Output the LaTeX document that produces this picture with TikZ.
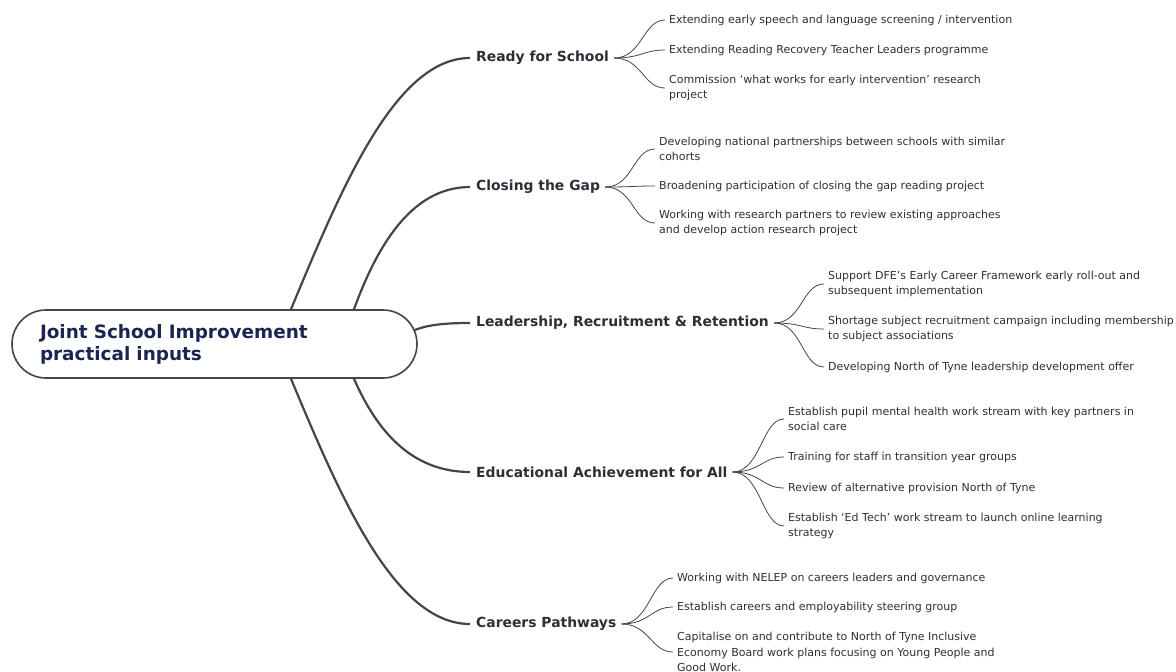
\documentclass[tikz,border=0pt]{standalone}
\usepackage{fontspec}
\setmainfont{DejaVu Sans}
\usepackage{xcolor}
\definecolor{txtgrey}{HTML}{2E2E38}
\definecolor{rootblue}{HTML}{1C2452}
\definecolor{linkgrey}{HTML}{454545}

\begin{document}
\begin{tikzpicture}[x=1pt,y=-1pt,
    leaf/.style={anchor=west, align=left, inner sep=0pt, text=txtgrey, font=\fontsize{11}{15.5}\selectfont},
    topic/.style={anchor=west, inner sep=0pt, text=txtgrey, font=\fontsize{13.9}{16}\selectfont\bfseries},
    trunk/.style={draw=linkgrey, line width=2.2pt},
    twig/.style={draw=linkgrey, line width=0.8pt}]
        \useasboundingbox (0,0) rectangle (1176,672);
        % central topic
        \node[draw=linkgrey, line width=1.6pt, fill=white, rounded corners=34pt,
              minimum width=405pt, minimum height=68pt, text width=349pt, inner xsep=28pt,
              align=left, text=rootblue, font=\fontsize{18.4}{22}\selectfont\bfseries]
              (root) at (214.5,344) {Joint School Improvement\\practical inputs};
        % main topics
        \node[topic] (ready) at (476,58) {Ready for School};
        \node[topic] (gap) at (476,187) {Closing the Gap};
        \node[topic] (lead) at (476,323) {Leadership, Recruitment \& Retention};
        \node[topic] (achieve) at (476,472) {Educational Achievement for All};
        \node[topic] (career) at (476,624) {Careers Pathways};
        % subtopics
        \node[leaf] (r1) at (669,20) {Extending early speech and language screening / intervention};
        \node[leaf] (r2) at (669,50) {Extending Reading Recovery Teacher Leaders programme};
        \node[leaf] (r3) at (669,88) {Commission ‘what works for early intervention’ research\\project};
        \node[leaf] (g1) at (659,149) {Developing national partnerships between schools with similar\\cohorts};
        \node[leaf] (g2) at (659,186) {Broadening participation of closing the gap reading project};
        \node[leaf] (g3) at (659,223) {Working with research partners to review existing approaches\\and develop action research project};
        \node[leaf] (l1) at (828,284) {Support DFE’s Early Career Framework early roll-out and\\subsequent implementation};
        \node[leaf] (l2) at (828,329) {Shortage subject recruitment campaign including membership\\to subject associations};
        \node[leaf] (l3) at (828,367) {Developing North of Tyne leadership development offer};
        \node[leaf] (a1) at (788,419) {Establish pupil mental health work stream with key partners in\\social care};
        \node[leaf] (a2) at (788,457) {Training for staff in transition year groups};
        \node[leaf] (a3) at (788,488) {Review of alternative provision North of Tyne};
        \node[leaf] (a4) at (788,526) {Establish ‘Ed Tech’ work stream to launch online learning\\strategy};
        \node[leaf] (c1) at (677,578) {Working with NELEP on careers leaders and governance};
        \node[leaf] (c2) at (677,607) {Establish careers and employability steering group};
        \node[leaf] (c3) at (677,652) {Capitalise on and contribute to North of Tyne Inclusive\\Economy Board work plans focusing on Young People and\\Good Work.};
        % root to main topics
        \draw[trunk] ([xshift=76.5pt]root.north) .. controls +(50,-120) and +(-75,0) .. ([xshift=-6pt]ready.west);
        \draw[trunk] ([xshift=139.5pt]root.north) .. controls +(22,-60) and +(-60,0) .. ([xshift=-6pt]gap.west);
        \draw[trunk] ([xshift=-3pt,yshift=14pt]root.east) .. controls +(15,-6) and +(-20,0) .. ([xshift=-6pt]lead.west);
        \draw[trunk] ([xshift=139.5pt]root.south) .. controls +(22,50) and +(-60,0) .. ([xshift=-6pt]achieve.west);
        \draw[trunk] ([xshift=76.5pt]root.south) .. controls +(50,120) and +(-75,0) .. ([xshift=-6pt]career.west);
        % main topics to subtopics
        \draw[twig] ([xshift=5pt]ready.east) .. controls +(28,0) and +(-22,0) .. ([xshift=-4pt]r1.west);
        \draw[twig] ([xshift=5pt]ready.east) .. controls +(28,0) and +(-22,0) .. ([xshift=-4pt]r2.west);
        \draw[twig] ([xshift=5pt]ready.east) .. controls +(28,0) and +(-22,0) .. ([xshift=-4pt]r3.west);
        \draw[twig] ([xshift=5pt]gap.east) .. controls +(28,0) and +(-22,0) .. ([xshift=-4pt]g1.west);
        \draw[twig] ([xshift=5pt]gap.east) .. controls +(28,0) and +(-22,0) .. ([xshift=-4pt]g2.west);
        \draw[twig] ([xshift=5pt]gap.east) .. controls +(28,0) and +(-22,0) .. ([xshift=-4pt]g3.west);
        \draw[twig] ([xshift=5pt]lead.east) .. controls +(28,0) and +(-22,0) .. ([xshift=-4pt]l1.west);
        \draw[twig] ([xshift=5pt]lead.east) .. controls +(28,0) and +(-22,0) .. ([xshift=-4pt]l2.west);
        \draw[twig] ([xshift=5pt]lead.east) .. controls +(28,0) and +(-22,0) .. ([xshift=-4pt]l3.west);
        \draw[twig] ([xshift=5pt]achieve.east) .. controls +(28,0) and +(-22,0) .. ([xshift=-4pt]a1.west);
        \draw[twig] ([xshift=5pt]achieve.east) .. controls +(28,0) and +(-22,0) .. ([xshift=-4pt]a2.west);
        \draw[twig] ([xshift=5pt]achieve.east) .. controls +(28,0) and +(-22,0) .. ([xshift=-4pt]a3.west);
        \draw[twig] ([xshift=5pt]achieve.east) .. controls +(28,0) and +(-22,0) .. ([xshift=-4pt]a4.west);
        \draw[twig] ([xshift=5pt]career.east) .. controls +(28,0) and +(-22,0) .. ([xshift=-4pt]c1.west);
        \draw[twig] ([xshift=5pt]career.east) .. controls +(28,0) and +(-22,0) .. ([xshift=-4pt]c2.west);
        \draw[twig] ([xshift=5pt]career.east) .. controls +(28,0) and +(-22,0) .. ([xshift=-4pt]c3.west);
\end{tikzpicture}
\end{document}
